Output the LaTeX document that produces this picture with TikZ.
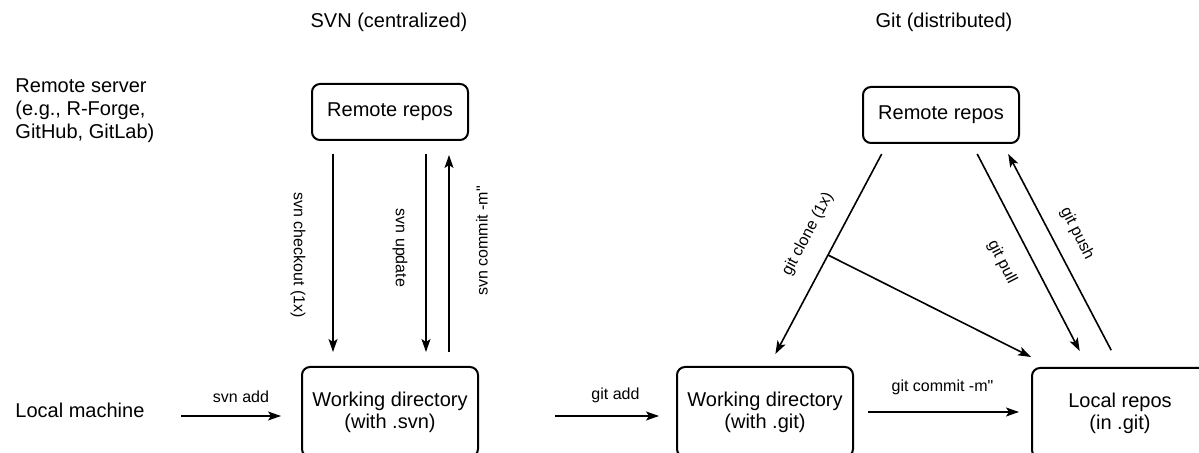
\documentclass[tikz,border=0pt]{standalone}
\usepackage{fontspec}
\setmainfont{Liberation Sans}[Ligatures=TeXOff]
\usepackage{tikz}
\usetikzlibrary{
  arrows.meta,
  positioning
}

\begin{document}
\begin{tikzpicture}[x=0.5pt,y=-0.5pt,font=\fontsize{10}{11}\selectfont,
  >={Stealth[length=6.5pt,width=4.5pt,inset=1.5pt]},
  line width=0.8pt,
  small/.style={font=\fontsize{8}{9.6}\selectfont},
  repobox/.style={rectangle,rounded corners=4pt,draw=black,fill=white,line width=1pt,
    minimum width=78pt,minimum height=28pt,align=center},
  dirbox/.style={rectangle,rounded corners=4pt,draw=black,fill=white,line width=1pt,
    minimum width=88pt,minimum height=45pt,align=center}]
  \useasboundingbox (0,0) rectangle (1199,453);
  \clip (0,0) rectangle (1199,453);
  % row and column labels
  \node[anchor=west,align=left,font=\fontsize{10}{11.5}\selectfont] (0) at (8,111) {Remote server\\(e.g., R-Forge,\\GitHub, GitLab)};
  \node[anchor=west] (1) at (8,410) {Local machine};
  \node (2) at (389,22) {SVN (centralized)};
  \node (3) at (944,22) {Git (distributed)};
  % SVN
  \node[repobox] (4) at (390,112) {Remote repos};
  \node[dirbox] (5) at (390,412) {Working directory\\(with .svn)};
  \draw[->,shorten <=6.5pt,shorten >=7pt] ([xshift=-28.5pt]4.south) -- ([xshift=-28.5pt]5.north);
  \draw[->,shorten <=6.5pt,shorten >=7pt] ([xshift=18pt]4.south) -- ([xshift=18pt]5.north);
  \draw[->,shorten <=7pt,shorten >=7pt] ([xshift=29.5pt]5.north) -- ([xshift=29.5pt]4.south);
  \node[small,rotate=-90] (12) at (298,255) {svn checkout (1x)};
  \node[small,rotate=-90] (13) at (400,248) {svn update};
  \node[small,rotate=90] (14) at (482,241) {svn commit -m"};
  \coordinate (10) at (181,416);
  \draw[->,shorten >=10pt] (10) -- (5.west |- 10) node[small,midway,above=3pt] {svn add};
  % Git
  \node[repobox] (6) at (941,115) {Remote repos};
  \node[dirbox] (7) at (765,412) {Working directory\\(with .git)};
  \node[dirbox] (8) at (1120,413) {Local repos\\(in .git)};
  \draw[->,shorten <=5.7pt,shorten >=6.8pt] ([xshift=-27pt]6.south) -- coordinate[pos=0.5] (9) ([xshift=2pt]7.north);
  \draw[->] (9) -- ([yshift=5pt]8.north west);
  \draw[->,shorten <=5.6pt,shorten >=9pt] ([xshift=15.5pt]6.south) -- ([xshift=-16pt]8.north);
  \draw[->,shorten <=9.5pt,shorten >=5.6pt] (8.north) -- ([xshift=31pt]6.south);
  \node[small,rotate=62] (15) at (808,234) {git clone (1x)};
  \node[small,rotate=-63] (16) at (1002,262) {git pull};
  \node[small,rotate=-63] (17) at (1077,234) {git push};
  \coordinate (11) at (555,416);
  \draw[->,shorten >=8.5pt] (11) -- (7.west |- 11) node[small,midway,above=3pt] {git add};
  \draw[->,shorten <=7pt,shorten >=6pt] (7.east) -- (7.east -| 8.west) node[small,midway,above=5pt] {git commit -m"};
\end{tikzpicture}
\end{document}
